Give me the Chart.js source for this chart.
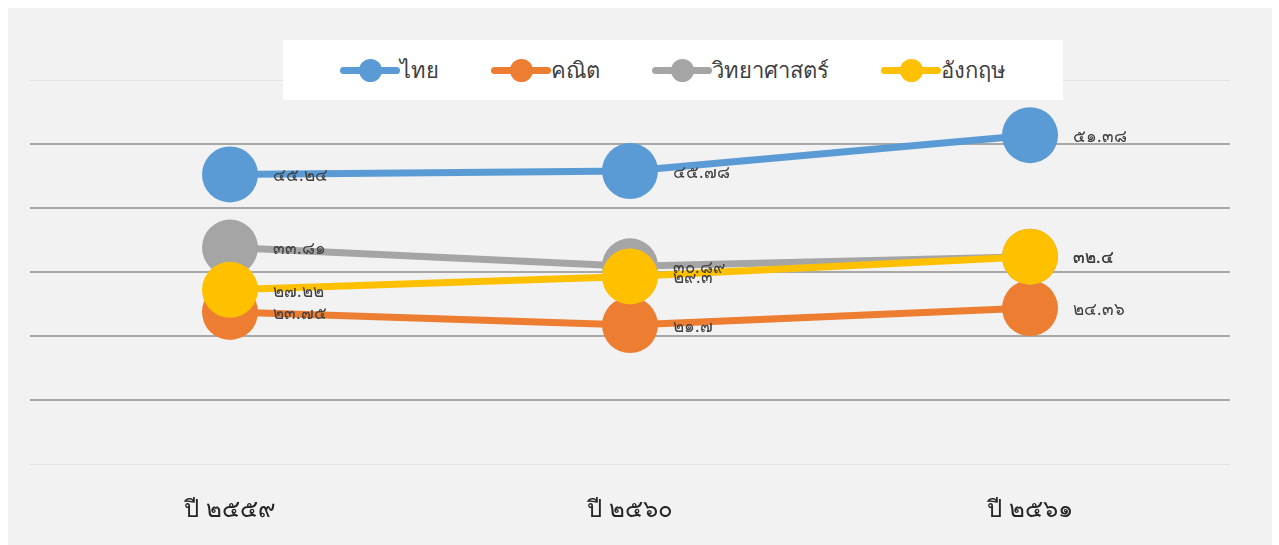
<!DOCTYPE html>
<html>
<head>
<meta charset="utf-8">
<title>คะแนนเฉลี่ย</title>
<script src="https://cdn.jsdelivr.net/npm/chart.js@4.4.0/dist/chart.umd.min.js"></script>
<style>
  body { margin: 0; background: #fff; }
  #wrap { position: absolute; left: 8px; top: 8px; width: 1264px; height: 537px; background: #f2f2f2; }
  #legend {
    position: absolute; left: 275px; top: 32px; width: 780px; height: 60px; z-index: 2;
    background: #fff; display: flex; justify-content: center; align-items: center; gap: 52px;
    font-family: "Noto Sans", sans-serif; font-size: 22px; color: #404040;
  }
  .item { display: flex; align-items: center; }
  .sw { position: relative; width: 60px; height: 7px; border-radius: 4px; }
  .sw span { position: absolute; left: 19px; top: -8px; width: 23px; height: 23px; border-radius: 50%; }
</style>
</head>
<body>
<div id="wrap">
  <div id="legend"></div>
  <canvas id="scoreChart" width="1264" height="537"></canvas>
</div>
<script>
// Chart data
const categories = ['ปี ๒๕๕๙', 'ปี ๒๕๖๐', 'ปี ๒๕๖๑'];
const seriesNames = ['ไทย', 'คณิต', 'วิทยาศาสตร์', 'อังกฤษ'];
const thaiScores = [45.24, 45.78, 51.38];
const mathScores = [23.75, 21.7, 24.36];
const scienceScores = [33.81, 30.89, 32.4];
const englishScores = [27.22, 29.3, 32.4];
const seriesColors = ['#5b9bd5', '#ed7d31', '#a5a5a5', '#ffc000'];
const yMin = 0, yMax = 60, yStep = 10;

// Convert arabic digits to Thai digits
function toThaiDigits(v) {
    const thai = '๐๑๒๓๔๕๖๗๘๙';
    return String(v).replace(/[0-9]/g, d => thai[d]);
}

// Legend built from the series
const legend = document.getElementById('legend');
seriesNames.forEach((name, i) => {
    const item = document.createElement('div');
    item.className = 'item';
    item.innerHTML = `<div class="sw" style="background:${seriesColors[i]}"><span style="background:${seriesColors[i]}"></span></div><span>${name}</span>`;
    legend.appendChild(item);
});

// Value labels to the right of each point
const valueLabels = {
    id: 'valueLabels',
    afterDatasetsDraw(chart) {
        const ctx = chart.ctx;
        ctx.save();
        ctx.font = '17px "Noto Sans", sans-serif';
        ctx.fillStyle = '#404040';
        ctx.textAlign = 'left';
        ctx.textBaseline = 'middle';
        chart.data.datasets.forEach((ds, i) => {
            chart.getDatasetMeta(i).data.forEach((pt, j) => {
                ctx.fillText(toThaiDigits(ds.data[j]), pt.x + 43, pt.y + 2);
            });
        });
        ctx.restore();
    }
};

const allScores = [thaiScores, mathScores, scienceScores, englishScores];
const drawOrder = [3, 2, 1, 0];

new Chart(document.getElementById('scoreChart'), {
    type: 'line',
    data: {
        labels: categories,
        datasets: seriesNames.map((name, i) => ({
            label: name,
            data: allScores[i],
            borderColor: seriesColors[i],
            backgroundColor: seriesColors[i],
            borderWidth: 7,
            pointRadius: 28,
            pointHoverRadius: 28,
            pointBorderWidth: 0,
            tension: 0,
            order: drawOrder[i]
        }))
    },
    plugins: [valueLabels],
    options: {
        responsive: false,
        animation: false,
        layout: { autoPadding: false, padding: { left: 22, right: 42, top: 72, bottom: 0 } },
        plugins: { legend: { display: false }, tooltip: { enabled: false } },
        scales: {
            x: {
                offset: true,
                grid: { display: false, drawTicks: false },
                border: { display: false },
                ticks: { padding: 32, color: '#262626', font: { family: '"Noto Sans", sans-serif', size: 24 } },
                afterFit: scale => {
                    scale.height = 81;
                    scale.paddingLeft = 0;
                    scale.paddingRight = 0;
                }
            },
            y: {
                min: yMin, max: yMax,
                grid: {
                    drawTicks: false,
                    color: c => (c.tick.value === yMin || c.tick.value === yMax) ? '#e2e2e2' : '#a8a8a8',
                    lineWidth: c => (c.tick.value === yMin || c.tick.value === yMax) ? 1 : 2
                },
                border: { display: false },
                ticks: { display: false, stepSize: yStep },
                afterFit: scale => { scale.width = 0; }
            }
        }
    }
});
</script>
</body>
</html>
